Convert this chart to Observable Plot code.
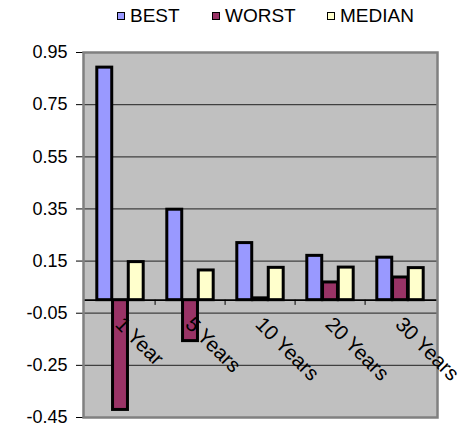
<!DOCTYPE html>
<html>
<head>
<meta charset="utf-8">
<script src="https://cdn.jsdelivr.net/npm/d3@7"></script>
<script src="https://cdn.jsdelivr.net/npm/@observablehq/plot@0.6"></script>
<style>
  html, body { margin: 0; padding: 0; background: #fff; }
  #chart { position: relative; width: 466px; height: 428px; font-family: "Liberation Sans", Arial, sans-serif; }
  #legend { position: absolute; top: 0; left: 0; width: 466px; height: 30px; font-size: 19px; color: #000; }
  #legend .item { position: absolute; top: 5px; white-space: nowrap; line-height: 22px; }
  #legend .swatch { position: absolute; top: 7px; width: 6px; height: 6px; border: 1px solid #000; }
  #legend .label { position: absolute; left: 13px; top: 0; }
  #chart svg { position: absolute; top: 0; left: 0; }
</style>
</head>
<body>
<div id="chart"><div id="legend"></div></div>
<script>
// Horizons and the three return series
const categories = ["1 Year", "5 Years", "10 Years", "20 Years", "30 Years"];
const seriesNames = ["BEST", "WORST", "MEDIAN"];
const best   = [0.892, 0.347, 0.219, 0.170, 0.163];
const worst  = [-0.421, -0.157, 0.007, 0.068, 0.087];
const median = [0.146, 0.114, 0.124, 0.125, 0.123];
const seriesColors = ["#9999ff", "#993366", "#ffffcc"];
const yTicks = [-0.45, -0.25, -0.05, 0.15, 0.35, 0.55, 0.75, 0.95];

const seriesValues = [best, worst, median];
const rows = categories.flatMap((c, i) =>
  seriesNames.map((s, j) => ({category: c, series: s, value: seriesValues[j][i]}))
);

const W = 466, H = 428;
const mL = 83, mR = 29, mT = 52, mB = 11;
const band = (W - mL - mR) / categories.length;
const step = band / 4.5;          // three bars plus a gap of 1.5 bar widths
const pad = 0.75 * step;

const bars = seriesNames.map((s, j) =>
  Plot.barY(rows.filter(d => d.series === s), {
    x: "category",
    y: "value",
    fill: seriesColors[j],
    stroke: "#000",
    strokeWidth: 3,
    insetLeft: pad + j * step,
    insetRight: band - pad - (j + 1) * step
  })
);

const chart = Plot.plot({
  width: W,
  height: H,
  marginLeft: mL,
  marginRight: mR,
  marginTop: mT,
  marginBottom: mB,
  style: {fontFamily: "Liberation Sans, Arial, sans-serif", fontSize: "18px", background: "transparent", overflow: "visible", color: "#000"},
  x: {domain: categories, padding: 0, axis: null},
  y: {
    domain: [-0.45, 0.95],
    ticks: yTicks,
    tickFormat: d => d.toFixed(2),
    tickSize: 7,
    tickPadding: 9,
    label: null,
    line: true
  },
  marks: [
    Plot.frame({fill: "#c0c0c0"}),
    Plot.ruleY(yTicks, {stroke: "#404040", strokeWidth: 1.2}),
    ...bars,
    Plot.ruleY([0], {stroke: "#000", strokeWidth: 1.8}),
    Plot.ruleX(categories.slice(1), {x: d => d, y1: 0, y2: -0.02, dx: -band / 2, stroke: "#000"}),
    Plot.frame({stroke: "#808080", strokeWidth: 2.5}),
    Plot.text(categories, {
      x: d => d,
      y: 0,
      text: d => d,
      rotate: 45,
      textAnchor: "start",
      lineAnchor: "top",
      dx: 4,
      dy: 15,
      fontSize: 20.5,
      fill: "#000"
    })
  ]
});

document.getElementById("chart").appendChild(chart);

// Legend row above the plot
const legend = document.getElementById("legend");
const legendX = [117, 212, 327];
seriesNames.forEach((s, j) => {
  const item = document.createElement("div");
  item.className = "item";
  item.style.left = legendX[j] + "px";
  const sw = document.createElement("div");
  sw.className = "swatch";
  sw.style.background = seriesColors[j];
  const lb = document.createElement("span");
  lb.className = "label";
  lb.textContent = s;
  item.appendChild(sw);
  item.appendChild(lb);
  legend.appendChild(item);
});
</script>
</body>
</html>
